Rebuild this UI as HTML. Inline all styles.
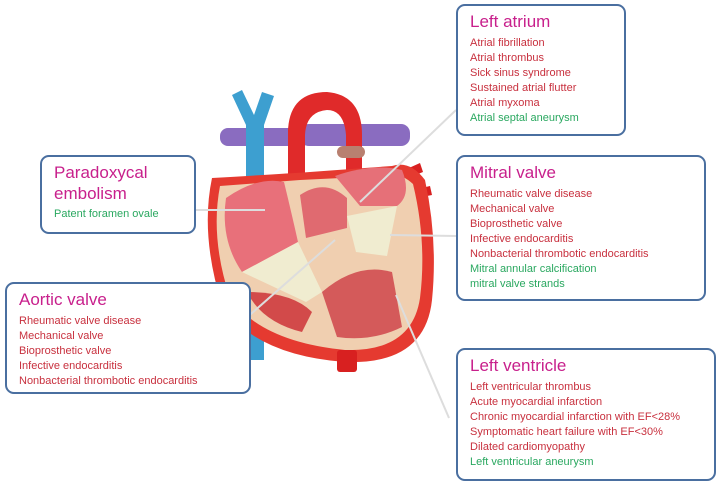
<!DOCTYPE html>
<html><head><meta charset="utf-8"><style>
body{margin:0;width:720px;height:485px;background:#fff;position:relative;overflow:hidden;font-family:"Liberation Sans",sans-serif}
.b{position:absolute;border:2.5px solid #4a6fa0;border-radius:9px;background:#fff;box-sizing:border-box;padding:6px 0 0 12px}
.t{color:#c8208c;font-size:17px;line-height:20px;margin-bottom:4px}
.i{color:#c8303e;font-size:11px;line-height:15px}
.g{color:#2aa860}
svg{position:absolute;left:0;top:0}
</style></head><body>
<svg width="720" height="485">
<rect x="220" y="128" width="90" height="18" rx="8" fill="#8a6cc0"/>
<rect x="300" y="124" width="110" height="22" rx="9" fill="#8a6cc0"/>
<path d="M232,95 L242,90 L254,115 L262,92 L274,96 L264,125 L264,360 L246,360 L246,125 Z" fill="#3d9fd0"/>
<path d="M288,190 L288,130 Q290,92 327,92 Q362,95 362,135 L362,175 L346,175 L346,135 Q344,110 327,110 Q306,112 305,135 L305,190 Z" fill="#e02a2a"/>
<rect x="337" y="146" width="28" height="12" rx="6" fill="#b88070"/>
<path d="M400,172 L420,163 L423,172 L403,180Z" fill="#d82020"/>
<path d="M405,192 L430,186 L432,195 L407,200Z" fill="#d82020"/>
<path d="M212,178 Q200,235 222,305 Q255,355 345,362 Q425,365 432,300 Q438,240 425,180 Q410,160 392,166 L310,172 Q280,174 212,178Z" fill="#e53a30"/>
<path d="M220,186 Q210,238 230,298 Q262,342 345,350 Q412,352 420,298 Q427,242 413,184 Q398,170 382,176 L300,180Z" fill="#f0cfb0"/>
<rect x="337" y="350" width="20" height="22" rx="3" fill="#d82020"/>
<path d="M226,198 Q258,176 284,182 Q292,215 298,242 L242,272 Q220,240 226,198Z" fill="#e8707a"/>
<path d="M300,195 Q325,178 347,198 L347,228 L306,238 Z" fill="#e06a70"/>
<path d="M335,176 Q372,163 402,170 Q412,195 397,206 L360,206 Z" fill="#e67078"/>
<path d="M242,272 L298,242 L322,292 L306,302 Z" fill="#f0ecd0"/>
<path d="M347,216 L397,206 L387,256 L356,252 Z" fill="#f0ecd0"/>
<path d="M247,292 Q292,292 312,312 L302,332 Q262,322 247,292Z" fill="#d24a4a"/>
<path d="M322,292 Q357,262 392,272 L402,327 Q372,342 337,337Z" fill="#d45a5a"/>
<g stroke="#ddd" stroke-width="2">
<line x1="195" y1="210" x2="265" y2="210"/>
<line x1="227" y1="335" x2="335" y2="240"/>
<line x1="360" y1="202" x2="456" y2="110"/>
<line x1="390" y1="235" x2="456" y2="236"/>
<line x1="396" y1="295" x2="449" y2="418"/>
</g>
</svg>
<div class="b" style="left:456px;top:4px;width:170px;height:132px"><div class="t">Left atrium</div><div class="i">Atrial fibrillation<br>Atrial thrombus<br>Sick sinus syndrome<br>Sustained atrial flutter<br>Atrial myxoma<br><span class="g">Atrial septal aneurysm</span></div></div>
<div class="b" style="left:456px;top:155px;width:250px;height:146px"><div class="t">Mitral valve</div><div class="i">Rheumatic valve disease<br>Mechanical valve<br>Bioprosthetic valve<br>Infective endocarditis<br>Nonbacterial thrombotic endocarditis<br><span class="g">Mitral annular calcification<br>mitral valve strands</span></div></div>
<div class="b" style="left:40px;top:155px;width:156px;height:79px;padding-top:5px"><div class="t" style="line-height:21px;margin-bottom:3px">Paradoxycal<br>embolism</div><div class="i g">Patent foramen ovale</div></div>
<div class="b" style="left:5px;top:282px;width:246px;height:112px"><div class="t">Aortic valve</div><div class="i">Rheumatic valve disease<br>Mechanical valve<br>Bioprosthetic valve<br>Infective endocarditis<br>Nonbacterial thrombotic endocarditis</div></div>
<div class="b" style="left:456px;top:348px;width:260px;height:133px"><div class="t">Left ventricle</div><div class="i">Left ventricular thrombus<br>Acute myocardial infarction<br>Chronic myocardial infarction with EF&lt;28%<br>Symptomatic heart failure with EF&lt;30%<br>Dilated cardiomyopathy<br><span class="g">Left ventricular aneurysm</span></div></div>
</body></html>
